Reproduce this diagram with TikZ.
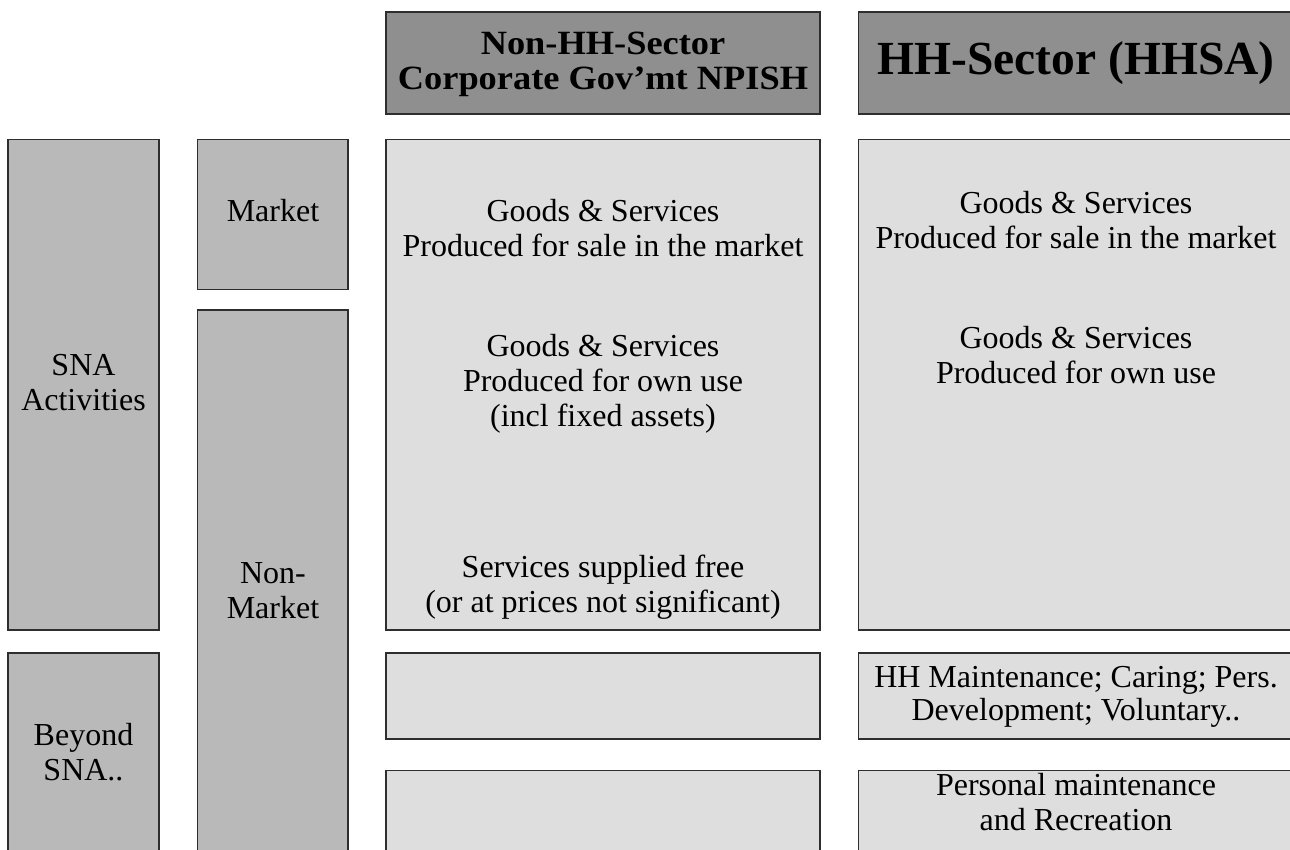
\documentclass[tikz,border=0pt]{standalone}
\usepackage{fontspec}
\setmainfont{Liberation Serif}
\newfontfamily\headfont[FakeStretch=1.07]{Liberation Serif}

\definecolor{edge}{HTML}{2E2E2E}
\definecolor{headfill}{HTML}{8F8F8F}
\definecolor{sidefill}{HTML}{B9B9B9}
\definecolor{cellfill}{HTML}{DEDEDE}

\tikzset{
  cell/.style={draw=edge, line width=1.3pt, inner sep=0pt, outer sep=0pt, anchor=north west},
  headcell/.style={cell, fill=headfill},
  sidecell/.style={cell, fill=sidefill},
  bodycell/.style={cell, fill=cellfill},
  % multi-line texts are placed by the baseline of their last line
  txt/.style={anchor=base, align=center, inner sep=0pt, font=\fontsize{32}{35}\selectfont},
  headtxt/.style={anchor=base, align=center, inner sep=0pt, font=\headfont\bfseries\fontsize{34}{35}\selectfont},
  bigtxt/.style={anchor=base, align=center, inner sep=0pt, font=\bfseries\fontsize{47.5}{50}\selectfont}
}

\begin{document}
\begin{tikzpicture}[x=1pt, y=-1pt]
  \useasboundingbox (0,0) rectangle (1290,849);

  % column headings
  \node[headcell, minimum width=434pt, minimum height=102pt] (hdA) at (386,12) {};
  \node[headcell, minimum width=436pt, minimum height=102pt] (hdB) at (858.5,12) {};

  % row headings on the left
  \node[sidecell, minimum width=151pt, minimum height=490.5pt] (sna) at (8,139.5) {};
  \node[sidecell, minimum width=151pt, minimum height=210pt] (beyond) at (8,653) {};
  \node[sidecell, minimum width=150.5pt, minimum height=150pt] (market) at (197.5,139.5) {};
  \node[sidecell, minimum width=150.5pt, minimum height=560pt] (nonmarket) at (197.5,310) {};

  % body cells
  \node[bodycell, minimum width=434pt, minimum height=490.5pt] (mainA) at (386,139.5) {};
  \node[bodycell, minimum width=436pt, minimum height=490.5pt] (mainB) at (858.5,139.5) {};
  \node[bodycell, minimum width=434pt, minimum height=86pt] (midA) at (386,653) {};
  \node[bodycell, minimum width=436pt, minimum height=86pt] (midB) at (858.5,653) {};
  \node[bodycell, minimum width=434pt, minimum height=100pt] (lowA) at (386,770.5) {};
  \node[bodycell, minimum width=436pt, minimum height=100pt] (lowB) at (858.5,770.5) {};

  % heading texts
  \node[headtxt] (hdAtxt) at (603,89) {Non-HH-Sector\\Corporate Gov’mt NPISH};
  \node[bigtxt] (hdBtxt) at (1076,74.5) {HH-Sector (HHSA)};

  % left labels
  \node[txt] (snatxt) at (83.5,410) {SNA\\Activities};
  \node[txt] (beyondtxt) at (83.5,780) {Beyond\\SNA..};
  \node[txt] (markettxt) at (273,221.7) {Market};
  \node[txt] (nonmarkettxt) at (273,618) {Non-\\Market};

  % non-household sector entries
  \node[txt] (aSale) at (603,256.7) {Goods \& Services\\Produced for sale in the market};
  \node[txt] (aOwn) at (603,426.5) {Goods \& Services\\Produced for own use\\(incl fixed assets)};
  \node[txt] (aFree) at (603,612.7) {Services supplied free\\(or at prices not significant)};

  % household sector entries
  \node[txt] (bSale) at (1076,248.3) {Goods \& Services\\Produced for sale in the market};
  \node[txt] (bOwn) at (1076,383.3) {Goods \& Services\\Produced for own use};
  \node[txt, font=\fontsize{32}{33}\selectfont] (bCare) at (1076,720.5) {HH Maintenance; Caring; Pers.\\Development; Voluntary..};
  \node[txt] (bPers) at (1076,830) {Personal maintenance\\and Recreation};
\end{tikzpicture}
\end{document}
